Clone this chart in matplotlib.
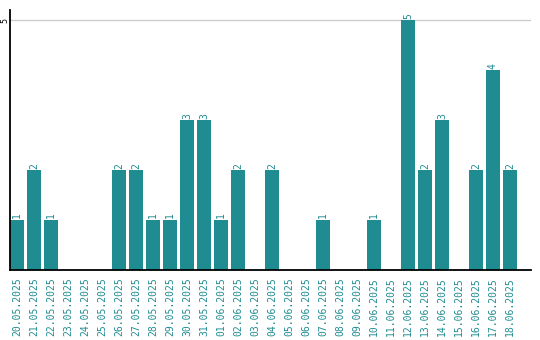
import numpy as np
import matplotlib.pyplot as plt

dates = ["20.05.2025", "21.05.2025", "22.05.2025", "23.05.2025", "24.05.2025",
         "25.05.2025", "26.05.2025", "27.05.2025", "28.05.2025", "29.05.2025",
         "30.05.2025", "31.05.2025", "01.06.2025", "02.06.2025", "03.06.2025",
         "04.06.2025", "05.06.2025", "06.06.2025", "07.06.2025", "08.06.2025",
         "09.06.2025", "10.06.2025", "11.06.2025", "12.06.2025", "13.06.2025",
         "14.06.2025", "15.06.2025", "16.06.2025", "17.06.2025", "18.06.2025"]
counts = [1, 2, 1, 0, 0, 0, 2, 2, 1, 1, 3, 3, 1, 2, 0,
          2, 0, 0, 1, 0, 0, 1, 0, 5, 2, 3, 0, 2, 4, 2]

teal = "#1f8c91"
font = "DejaVu Sans Mono"

fig = plt.figure(figsize=(5.4, 3.4), dpi=100)
ax = fig.add_axes([10 / 540, 70 / 340, 521 / 540, 260 / 340])

x = np.arange(len(dates))
bars = ax.bar(x, counts, width=0.82, color=teal, zorder=2)

for xi, c in zip(x, counts):
    if c > 0:
        ax.text(xi, c + 0.03, str(c), rotation=90, ha="center", va="bottom",
                color=teal, fontsize=7, family=font)

ax.set_xlim(-0.41, 30.24)
ax.set_ylim(0, 5.2)
ax.set_yticks([5])
ax.set_yticklabels(["5"], rotation=90, va="center", fontsize=6, family=font)
ax.tick_params(axis="y", length=0, pad=0.5)
ax.grid(axis="y", color="#cccccc", linewidth=1, zorder=0)

ax.set_xticks(x)
ax.set_xticklabels(dates, rotation=90, color=teal, fontsize=7, family=font)
ax.tick_params(axis="x", length=0, pad=5)

for s in ["top", "right"]:
    ax.spines[s].set_visible(False)
ax.spines["left"].set_linewidth(1.3)
ax.spines["bottom"].set_linewidth(1.3)
ax.spines["left"].set_zorder(3)
ax.spines["bottom"].set_zorder(3)

fig.savefig("out.png", dpi=100)
